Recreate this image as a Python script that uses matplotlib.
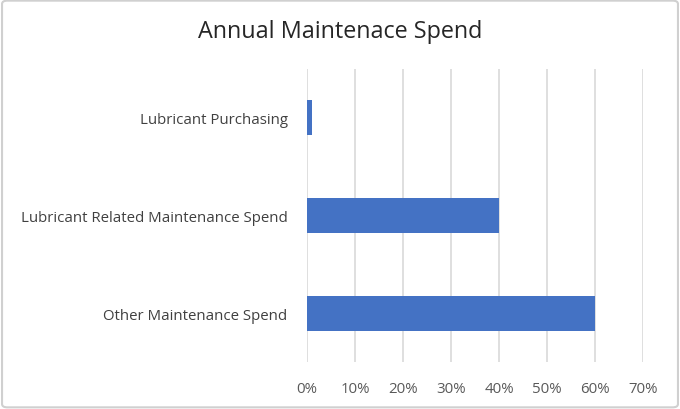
import matplotlib.pyplot as plt
from matplotlib.patches import FancyBboxPatch
from matplotlib.ticker import PercentFormatter

categories = ['Other Maintenance Spend', 'Lubricant Related Maintenance Spend', 'Lubricant Purchasing']
values = [60, 40, 1]
x_ticks = [0, 10, 20, 30, 40, 50, 60, 70]

plt.rcParams['font.family'] = ['Open Sans', 'DejaVu Sans']

fig = plt.figure(figsize=(6.8, 4.1), dpi=100)
ax = fig.add_axes([307 / 680, 1 - 363 / 410, 336 / 680, 293 / 410])

ax.barh(range(len(categories)), values, height=0.36, color='#4472C4', zorder=3)

ax.set_xlim(0, 70)
ax.set_ylim(-0.5, len(categories) - 0.5)
ax.set_xticks(x_ticks)
ax.xaxis.set_major_formatter(PercentFormatter(decimals=0))
ax.set_yticks(range(len(categories)))
ax.set_yticklabels(categories)

ax.grid(axis='x', color='#D9D9D9', linewidth=1.2, zorder=0)
for s in ax.spines.values():
    s.set_visible(False)
ax.tick_params(axis='both', length=0)
ax.tick_params(axis='x', pad=14, labelsize=10.8, labelcolor='#595959')
ax.tick_params(axis='y', pad=14, labelsize=10.8, labelcolor='#404040')

fig.text(0.5, 1 - 32 / 410, 'Annual Maintenace Spend', ha='center', va='center',
         fontsize=16.8, color='#262626')

# light border round the whole chart
border = FancyBboxPatch((0.003, 0.004), 0.994, 0.992, boxstyle='round,pad=0,rounding_size=0.008',
                        transform=fig.transFigure, facecolor='none', edgecolor='#D0D0D0',
                        linewidth=1.5)
fig.patches.append(border)

fig.savefig('out.png', dpi=100)
